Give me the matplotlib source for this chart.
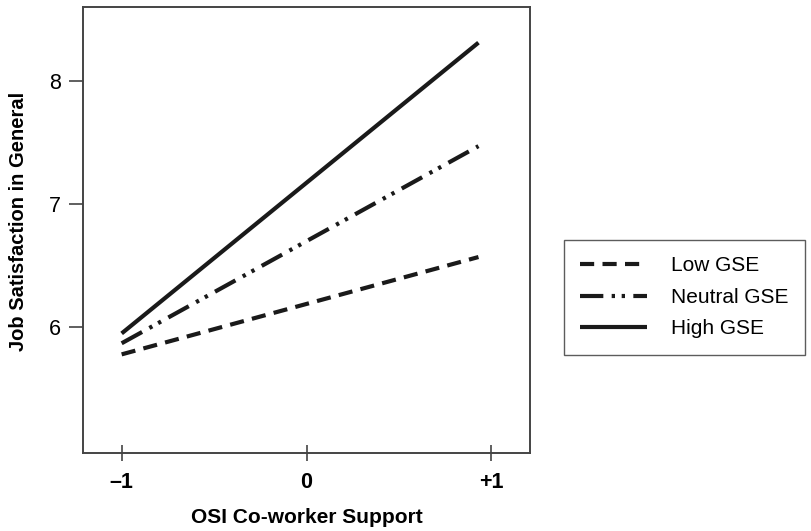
import matplotlib
matplotlib.use("Agg")
import matplotlib.pyplot as plt

plt.rcParams['font.family'] = ['Liberation Sans', 'DejaVu Sans']

# simple slopes of job satisfaction on co-worker support, by GSE level
support = [-1, 0.93]
low_gse = [5.78, 6.57]
neutral_gse = [5.87, 7.47]
high_gse = [5.95, 8.31]
series_labels = ["Low GSE", "Neutral GSE", "High GSE"]
xtick_vals = [-1, 0, 1]
xtick_labels = ["\u20131", "0", "+1"]
ytick_vals = [6, 7, 8]

fig = plt.figure(figsize=(8.12, 5.31), dpi=100)
ax = fig.add_axes([0.102, 0.147, 0.551, 0.84])

lw = 3.0
l1, = ax.plot(support, low_gse, color="#1a1a1a", lw=lw,
              dashes=(3.4, 2.0), dash_capstyle="butt", solid_capstyle="butt")
l2, = ax.plot(support, neutral_gse, color="#1a1a1a", lw=lw,
              dashes=(5.6, 2.0, 0.8, 1.6, 0.8, 2.0), dash_capstyle="butt",
              solid_capstyle="butt")
l3, = ax.plot(support, high_gse, color="#1a1a1a", lw=lw, solid_capstyle="butt")

ax.set_xlim(-1.21, 1.21)
ax.set_ylim(4.98, 8.6)
ax.set_xticks(xtick_vals)
ax.set_xticklabels(xtick_labels, fontsize=15.5, fontweight="bold")
ax.set_yticks(ytick_vals)
ax.set_yticklabels([str(v) for v in ytick_vals], fontsize=15.5)
ax.tick_params(axis="x", direction="inout", length=11, width=1.2, color="#444444", pad=8)
ax.tick_params(axis="y", direction="out", length=10, width=1.2, color="#444444", pad=6)

for sp in ax.spines.values():
    sp.set_color("#444444")
    sp.set_linewidth(1.4)

ax.set_xlabel("OSI Co-worker Support", fontsize=15, fontweight="bold", labelpad=11)
ax.set_ylabel("Job Satisfaction in General", fontsize=14.5, fontweight="bold")
ax.yaxis.set_label_coords(-0.123, 0.52)

leg = fig.legend([l1, l2, l3], series_labels, loc="center left",
                 bbox_to_anchor=(0.694, 0.44), fontsize=15, frameon=True,
                 fancybox=False, handlelength=3.2, handletextpad=1.15,
                 labelspacing=0.6, borderpad=0.8, borderaxespad=0)
leg.get_frame().set_edgecolor("#333333")
leg.get_frame().set_linewidth(1.0)

fig.savefig("out.png", dpi=100)
